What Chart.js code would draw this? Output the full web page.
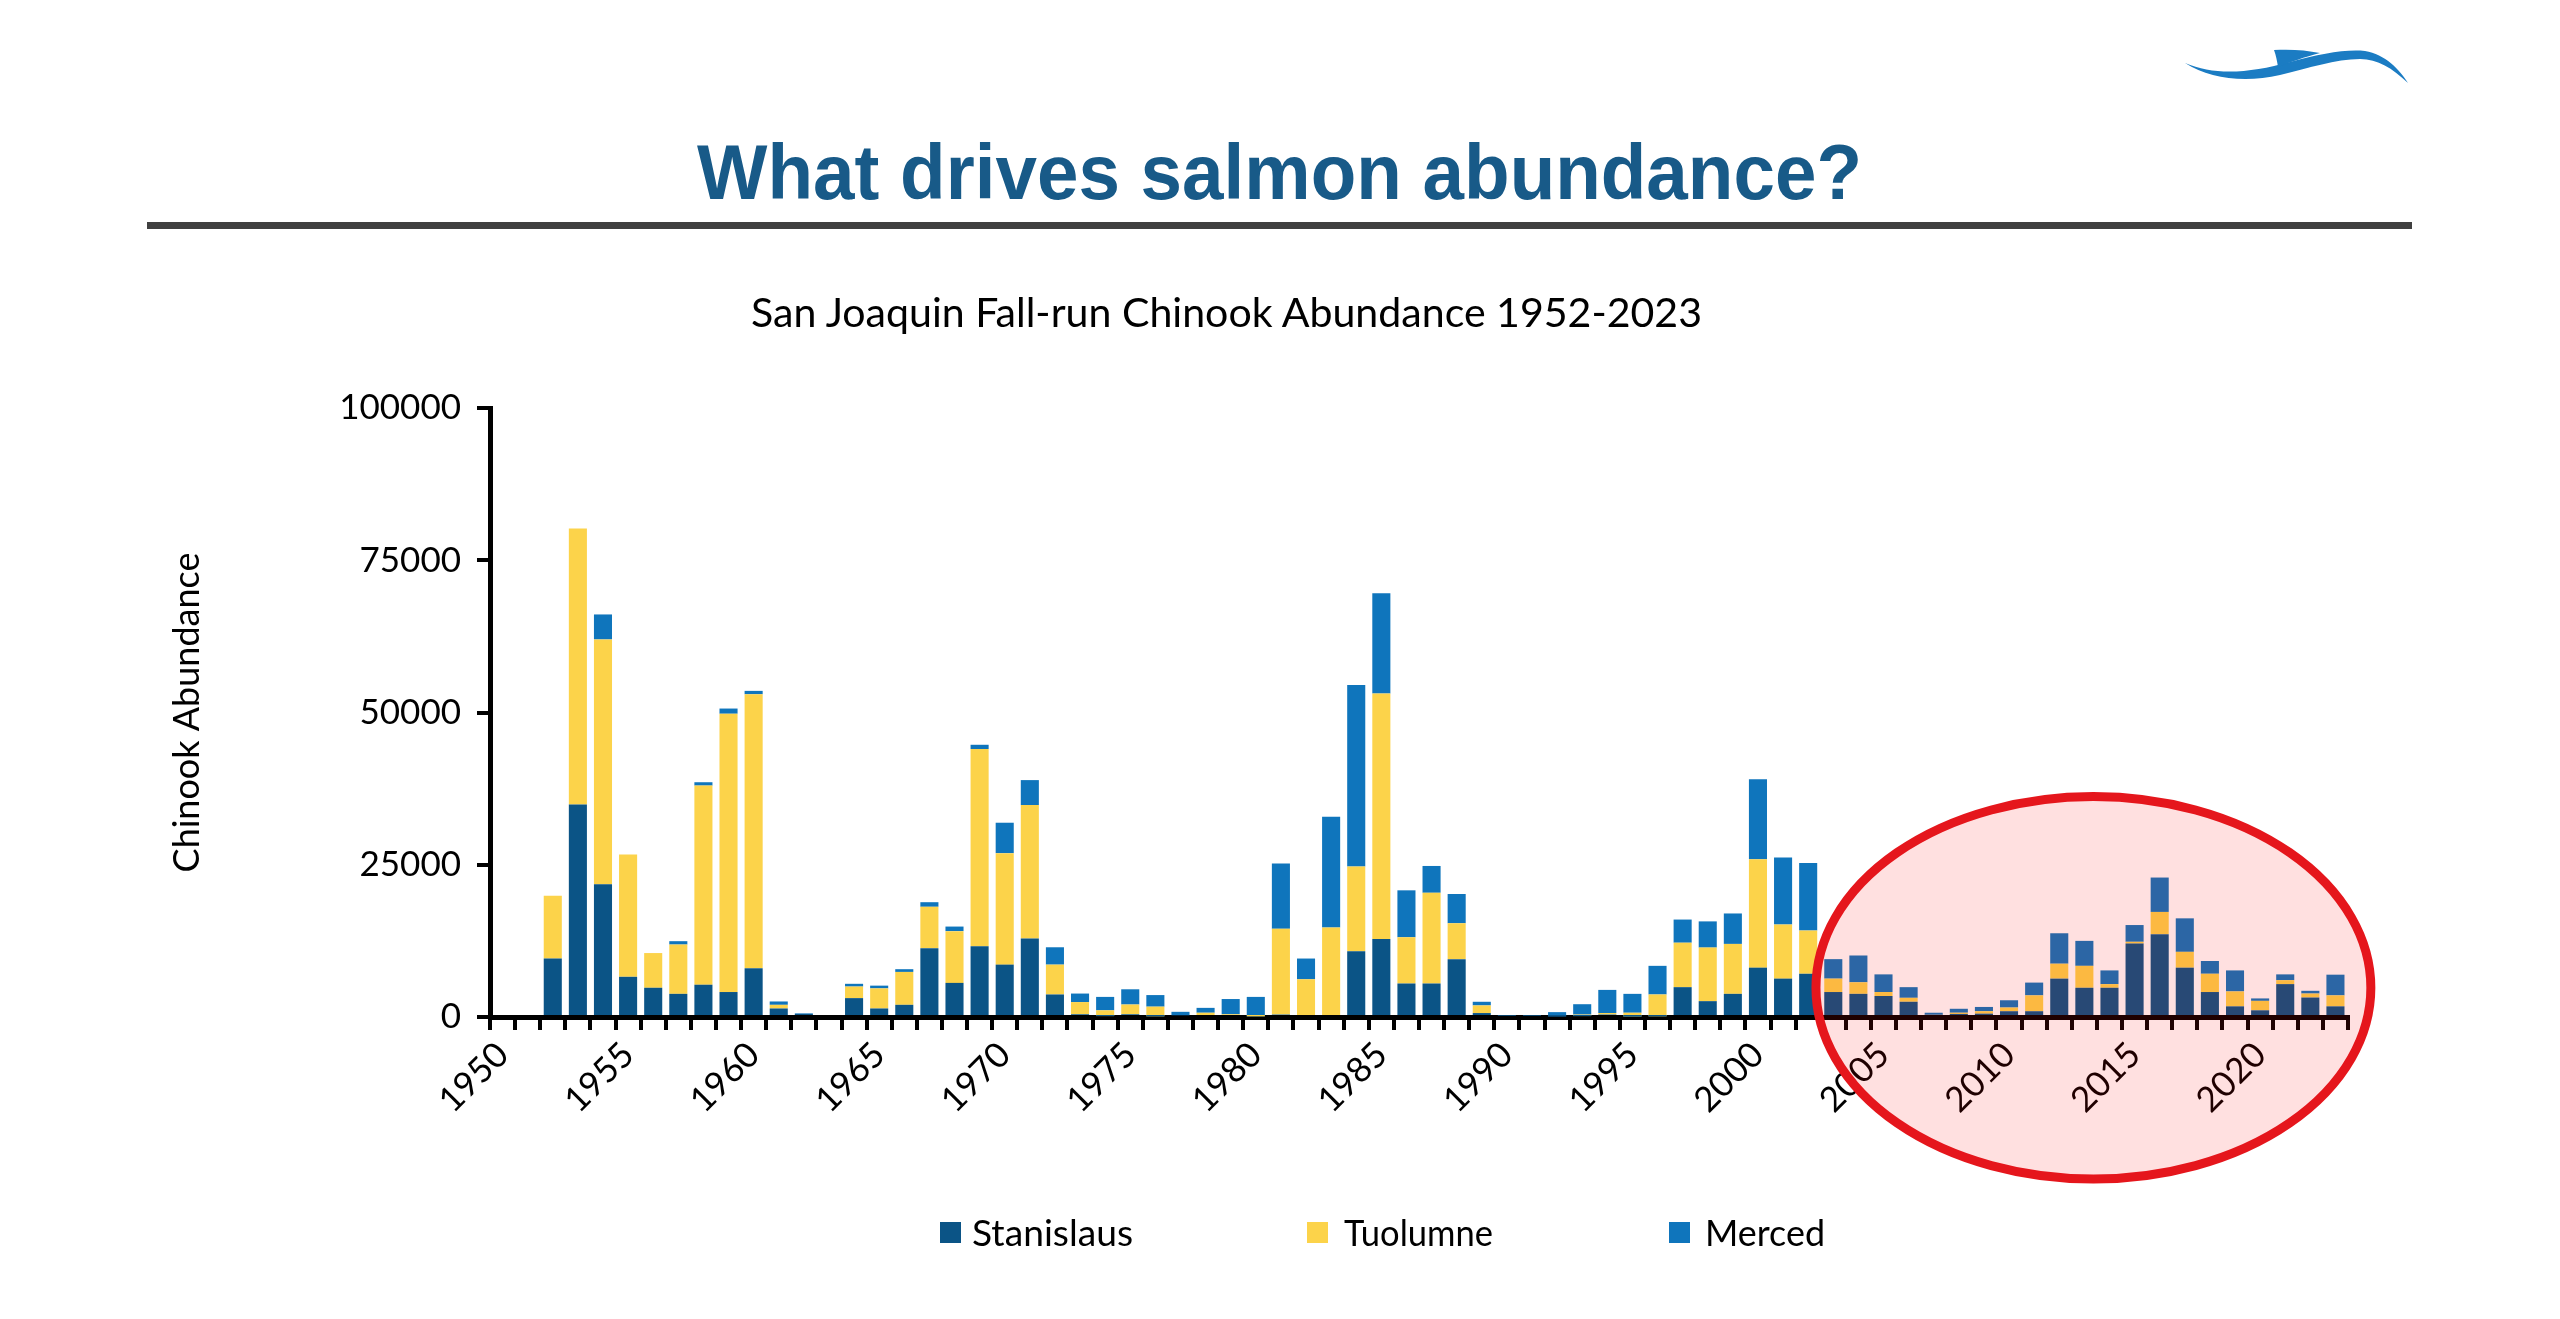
<!DOCTYPE html>
<html>
<head>
<meta charset="utf-8">
<script src="https://cdn.jsdelivr.net/npm/chart.js@4.4.0/dist/chart.umd.min.js"></script>
<style>
html,body{margin:0;padding:0;background:#fff;width:2560px;height:1319px;overflow:hidden;}
#wrap{position:absolute;left:0;top:0;width:2560px;height:1319px;}
.t{position:absolute;white-space:nowrap;line-height:1;transform-origin:left center;}
#slideTitle{left:697px;top:134px;font-family:"Liberation Sans",Arial,sans-serif;font-weight:bold;font-size:77px;color:#185a88;}
#rule{position:absolute;left:147px;top:222px;width:2265px;height:7px;background:#404040;}
#chartTitle{left:751px;top:292px;font-family:Lato,sans-serif;font-size:40px;color:#000;}
.lg{position:absolute;top:1213px;font-family:Lato,sans-serif;font-size:37px;color:#000;white-space:nowrap;line-height:1;transform-origin:left center;}
.sq{position:absolute;top:1222px;width:21px;height:21px;}
#logo{position:absolute;left:2180px;top:40px;}
</style>
</head>
<body>
<div id="wrap"><canvas id="c"></canvas></div>

<svg id="logo" width="240" height="50" viewBox="0 0 240 50">
  <path d="M5,23 C35,36 70,33 110,22 C140,14 165,9 185,11 C205,14 220,30 228,43 C212,28 198,19 180,19 C155,19 130,28 100,35 C65,43 30,39 5,23 Z" fill="#1b7cc3"/>
  <path d="M94,10 C110,9 126,10 140,13 C125,17 110,22 98,27 C97,21 96,15 94,10 Z" fill="#1b7cc3"/>
</svg>

<div class="t" id="slideTitle" data-w="1165">What drives salmon abundance?</div>
<div id="rule"></div>
<div class="t" id="chartTitle" data-w="951">San Joaquin Fall-run Chinook Abundance 1952-2023</div>

<div class="sq" style="left:940px;background:#0b5486;"></div>
<div class="lg" style="left:972px;" data-w="161">Stanislaus</div>
<div class="sq" style="left:1307px;background:#fcd34a;"></div>
<div class="lg" style="left:1344px;" data-w="149">Tuolumne</div>
<div class="sq" style="left:1669px;background:#0f75bc;"></div>
<div class="lg" style="left:1705px;" data-w="120">Merced</div>

<script>
// ---- data ----
const firstYear = 1950;
const lastYear = 2023;
const years = [];
for (let y = firstYear; y <= lastYear; y++) years.push(y);

const xTickYears = [1950,1955,1960,1965,1970,1975,1980,1985,1990,1995,2000,2005,2010,2015,2020];
const yTicks = [0,25000,50000,75000,100000];

const stanislaus = [
  0,0,9600,34900,21800,6600,4800,3800,5300,4100,
  8000,1400,500,0,3100,1400,2000,11300,5600,11600,
  8600,12900,3700,450,150,450,100,300,0,0,
  0,400,0,0,10800,12800,5500,5500,9500,650,
  200,200,100,150,400,50,100,4900,2600,3800,
  8100,6300,7100,4100,3800,3450,2500,400,500,550,
  950,950,6300,4800,4800,12050,13600,8100,4100,1750,
  1100,5400,3200,1750
];
const tuolumne = [
  0,0,10300,45300,40200,20100,5700,8100,32700,45700,
  45000,600,0,0,1900,3300,5400,6800,8500,32400,
  18300,21900,4900,2000,950,1600,1600,0,700,450,
  100,14100,6200,14700,13900,40300,7600,14900,5900,1250,
  0,0,0,250,250,650,3600,7300,8800,8200,
  17800,8900,7100,2200,1900,650,650,0,200,400,
  600,2600,2450,3600,600,300,3650,2600,3000,2450,
  1550,650,650,1800
];
const merced = [
  0,0,0,0,4100,0,0,550,550,850,
  550,550,100,0,450,450,450,750,750,700,
  5000,4100,2850,1400,2200,2500,1900,550,800,2500,
  3200,10700,3400,18200,29800,16500,7700,4400,4800,600,
  0,0,700,1700,3800,3100,4700,3800,4300,5000,
  13150,11000,11100,3200,4400,2900,1750,300,650,700,
  1200,2100,5000,4100,2250,2750,5650,5500,2100,3450,
  400,950,450,3400
];

// highlight ellipse in data units (year / abundance)
const highlightCenterYear = 2013.36;
const highlightRadiusYears = 11.05;
const highlightCenterValue = 4800;
const highlightRadiusValue = 31400;

// ---- chart ----
Chart.defaults.font.family = 'Lato, sans-serif';
Chart.defaults.color = '#000';

const ellipsePlugin = {
  id: 'highlightEllipse',
  afterDraw(chart) {
    const xs = chart.scales.x, ys = chart.scales.y, ctx = chart.ctx;
    const idx = highlightCenterYear - firstYear;
    const cx = xs.getPixelForValue(idx);
    const rx = xs.getPixelForValue(idx + highlightRadiusYears) - cx;
    const cy = ys.getPixelForValue(highlightCenterValue);
    const ry = cy - ys.getPixelForValue(highlightCenterValue + highlightRadiusValue);
    ctx.save();
    ctx.beginPath();
    ctx.ellipse(cx, cy, rx, ry, 0, 0, Math.PI * 2);
    ctx.fillStyle = 'rgba(255,0,0,0.12)';
    ctx.fill();
    ctx.lineWidth = 9;
    ctx.strokeStyle = '#e5161c';
    ctx.stroke();
    ctx.restore();
  }
};

new Chart(document.getElementById('c'), {
  type: 'bar',
  data: {
    labels: years.map(String),
    datasets: [
      {label: 'Stanislaus', data: stanislaus, backgroundColor: '#0b5486'},
      {label: 'Tuolumne', data: tuolumne, backgroundColor: '#fcd34a'},
      {label: 'Merced', data: merced, backgroundColor: '#0f75bc'}
    ]
  },
  options: {
    responsive: true,
    maintainAspectRatio: false,
    animation: false,
    devicePixelRatio: 1,
    datasets: {bar: {categoryPercentage: 1.0, barPercentage: 0.72, borderWidth: 0}},
    layout: {padding: {left: 166, right: 212, top: 408, bottom: 182}},
    plugins: {legend: {display: false}, tooltip: {enabled: false}, title: {display: false}},
    scales: {
      x: {
        stacked: true,
        z: 1,
        afterFit(s) { s.height = 120; },
        border: {display: true, color: '#000', width: 5},
        grid: {display: true, offset: true, drawOnChartArea: false, drawTicks: true, tickLength: 13, color: '#000', lineWidth: 4},
        ticks: {
          autoSkip: false, maxRotation: 45, minRotation: 45, padding: 4,
          font: {size: 35}, color: '#000',
          callback(v, i) { const yr = years[i]; return xTickYears.includes(yr) ? String(yr) : ''; }
        }
      },
      y: {
        stacked: true,
        min: 0, max: 100000,
        afterFit(s) { s.width = 324; },
        afterBuildTicks(s) { s.ticks = yTicks.map(v => ({value: v})); },
        border: {display: true, color: '#000', width: 5},
        grid: {display: true, drawOnChartArea: false, drawTicks: true, tickLength: 13, color: '#000', lineWidth: 4},
        ticks: {font: {size: 35}, color: '#000', padding: 16, callback: v => String(v)},
        title: {display: true, text: 'Chinook Abundance', font: {size: 36}, color: '#000', padding: {top: 0, bottom: 0}}
      }
    }
  },
  plugins: [ellipsePlugin]
});

// fit HTML text widths to the reference
function fit() {
  document.querySelectorAll('[data-w]').forEach(el => {
    const target = +el.dataset.w;
    el.style.transform = 'none';
    const w = el.getBoundingClientRect().width;
    if (w > 0) el.style.transform = 'scaleX(' + (target / w) + ')';
  });
}
fit();
if (document.fonts && document.fonts.ready) document.fonts.ready.then(fit);
</script>
</body>
</html>
